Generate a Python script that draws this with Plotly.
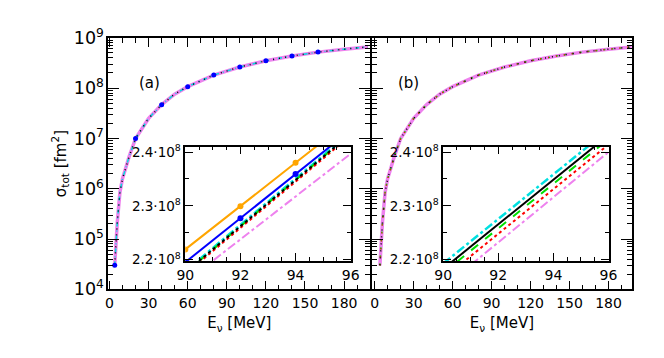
import plotly.graph_objects as go

# main curve (both panels)
e_main = [4, 5, 6, 8, 10, 12, 15, 20, 30, 40, 50, 60, 80, 100, 120, 140, 160, 180, 198]
sig_main = [3.0e4, 8.3e4, 2.2e5, 8.5e5, 1.6e6, 2.35e6, 4.3e6, 1.0e7, 2.5e7, 4.7e7,
            7.6e7, 1.07e8, 1.82e8, 2.63e8, 3.5e8, 4.36e8, 5.2e8, 5.95e8, 6.6e8]

# blue markers shown in the main panel (a)
e_mark = [4, 20, 40, 60, 80, 100, 120, 140, 160]
sig_mark = [3.0e4, 1.0e7, 4.7e7, 1.07e8, 1.82e8, 2.63e8, 3.5e8, 4.36e8, 5.2e8]

# zoomed region 90-96 MeV, sigma in fm^2
e_zoom = [90, 92, 94, 96]
a_orange = [2.219e8, 2.299e8, 2.380e8, 2.461e8]
a_blue = [2.195e8, 2.277e8, 2.359e8, 2.441e8]
a_cyan = [2.178e8, 2.264e8, 2.350e8, 2.436e8]
a_green = [2.176e8, 2.262e8, 2.348e8, 2.434e8]
a_black = [2.176e8, 2.262e8, 2.348e8, 2.434e8]
a_red = [2.173e8, 2.259e8, 2.345e8, 2.431e8]
a_violet = [2.158e8, 2.238e8, 2.317e8, 2.397e8]

b_cyan = [2.1925e8, 2.2755e8, 2.3585e8, 2.4415e8]
b_black = [2.1826e8, 2.2656e8, 2.3486e8, 2.4316e8]
b_green = [2.175e8, 2.258e8, 2.341e8, 2.424e8]
b_red = [2.165e8, 2.248e8, 2.331e8, 2.414e8]
b_violet = [2.148e8, 2.232e8, 2.316e8, 2.400e8]

inset_ticks = [2.2e8, 2.3e8, 2.4e8]
inset_ticktext = ["2.2·10<sup>8</sup>", "2.3·10<sup>8</sup>", "2.4·10<sup>8</sup>"]

FONT = "DejaVu Sans"

fig = go.Figure()


def line(x, y, color, dash, width, xa, ya, markers=False):
    fig.add_trace(go.Scatter(
        x=x, y=y, xaxis=xa, yaxis=ya,
        mode="lines+markers" if markers else "lines",
        line=dict(color=color, dash=dash, width=width),
        marker=dict(size=6, color=color),
        showlegend=False, hoverinfo="skip",
    ))


# panel (a) main
line(e_main, sig_main, "orange", "solid", 1.5, "x", "y")
line(e_main, sig_main, "blue", "solid", 1.5, "x", "y")
line(e_main, sig_main, "violet", "solid", 3.5, "x", "y")
line(e_main, sig_main, "#00e0e0", "4px,4px,1px,4px", 1.5, "x", "y")
line(e_main, sig_main, "black", "1px,5px", 1.5, "x", "y")
fig.add_trace(go.Scatter(x=e_mark, y=sig_mark, xaxis="x", yaxis="y", mode="markers",
                         marker=dict(size=5, color="blue"), showlegend=False,
                         hoverinfo="skip"))

# panel (b) main
line(e_main, sig_main, "violet", "solid", 3.5, "x2", "y2")
line(e_main, sig_main, "#00e000", "2px,6px", 1.5, "x2", "y2")
line(e_main, sig_main, "red", "1px,7px", 1.5, "x2", "y2")
line(e_main, sig_main, "black", "1px,6px", 1.5, "x2", "y2")

# inset (a)
line(e_zoom, a_violet, "violet", "dashdot", 2, "x3", "y3")
line(e_zoom, a_cyan, "#00e0e0", "dashdot", 3, "x3", "y3")
line(e_zoom, a_green, "#00e000", "dash", 2, "x3", "y3")
line(e_zoom, a_red, "red", "dot", 2, "x3", "y3")
line(e_zoom, a_black, "black", "dot", 2, "x3", "y3")
line(e_zoom, a_orange, "orange", "solid", 2, "x3", "y3", markers=True)
line(e_zoom, a_blue, "blue", "solid", 2, "x3", "y3", markers=True)

# inset (b)
line(e_zoom, b_violet, "violet", "dashdot", 2, "x4", "y4")
line(e_zoom, b_red, "red", "dot", 2, "x4", "y4")
line(e_zoom, b_green, "#00e000", "dash", 2, "x4", "y4")
line(e_zoom, b_cyan, "#00e0e0", "dashdot", 2.5, "x4", "y4")
line(e_zoom, b_black, "black", "solid", 2, "x4", "y4")

W, H = 664, 358
px = lambda v: v / W
py = lambda v: 1 - v / H

ax_common = dict(showline=True, linecolor="black", linewidth=1.5, mirror="allticks",
                 ticks="inside", tickcolor="black", showgrid=False, zeroline=False,
                 tickfont=dict(family=FONT, size=14, color="black"))

main_x = dict(ax_common, tickvals=[0, 30, 60, 90, 120, 150, 180],
              ticklen=9, tickwidth=1.2,
              minor=dict(dtick=10, tick0=0, ticks="inside", ticklen=5, tickcolor="black"),
              title=dict(text="E<sub>ν</sub> [MeV]", font=dict(family=FONT, size=15),
                         standoff=8))
main_y = dict(ax_common, type="log", range=[4, 9], dtick=1, exponentformat="power",
              ticklen=11, tickwidth=1.2,
              minor=dict(dtick="D1", ticks="inside", ticklen=5, tickcolor="black"))

inset_x = dict(ax_common, range=[90, 96], dtick=2, ticklen=8, tickwidth=1.2,
               minor=dict(dtick=0.5, ticks="inside", ticklen=4, tickcolor="black"),
               tickfont=dict(family=FONT, size=14, color="black"))
inset_y = dict(ax_common, range=[2.197e8, 2.41e8], tickvals=inset_ticks,
               ticktext=inset_ticktext, ticklen=8, tickwidth=1.2,
               minor=dict(tickvals=[2.25e8, 2.35e8], ticks="inside", ticklen=4,
                          tickcolor="black"),
               tickfont=dict(family=FONT, size=13.5, color="black"))

fig.update_layout(
    width=W, height=H,
    margin=dict(l=0, r=0, t=0, b=0),
    paper_bgcolor="white", plot_bgcolor="white",
    font=dict(family=FONT, color="black"),
    xaxis=dict(main_x, range=[-0.8, 200], domain=[px(94), px(363)], anchor="y"),
    yaxis=dict(main_y, domain=[py(287), py(19)], anchor="x",
               title=dict(text="σ<sub>tot</sub> [fm<sup>2</sup>]",
                          font=dict(family=FONT, size=15), standoff=4)),
    xaxis2=dict(main_x, range=[-2, 198], domain=[px(365), px(632)], anchor="y2"),
    yaxis2=dict(main_y, domain=[py(287), py(19)], anchor="x2", showticklabels=False),
    xaxis3=dict(inset_x, domain=[px(173), px(343)], anchor="y3"),
    yaxis3=dict(inset_y, domain=[py(257), py(135)], anchor="x3"),
    xaxis4=dict(inset_x, domain=[px(438), px(608)], anchor="y4"),
    yaxis4=dict(inset_y, domain=[py(257), py(135)], anchor="x4"),
    annotations=[
        dict(text="(a)", x=px(123), y=py(55), xref="paper", yref="paper",
             showarrow=False, font=dict(family=FONT, size=15)),
        dict(text="(b)", x=px(402), y=py(55), xref="paper", yref="paper",
             showarrow=False, font=dict(family=FONT, size=15)),
    ],
)

fig.write_html("out.html")
